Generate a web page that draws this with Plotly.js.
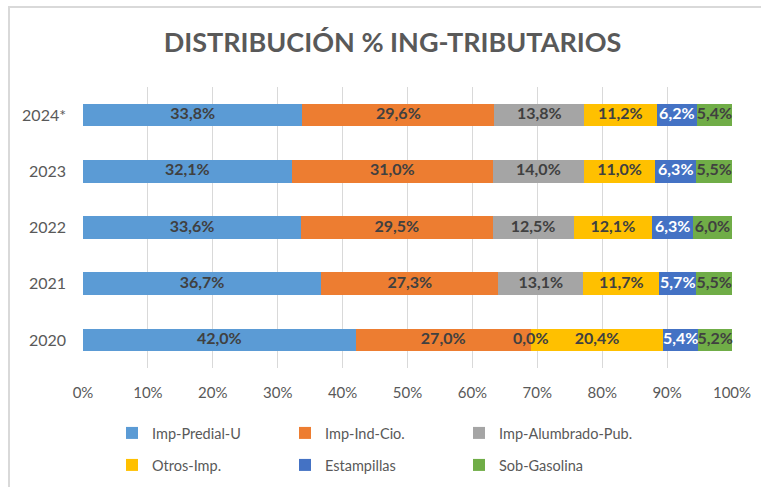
<!DOCTYPE html>
<html>
<head>
<meta charset="utf-8">
<script src="https://cdn.plot.ly/plotly-3.0.1.min.js"></script>
<style>
  html, body { margin:0; padding:0; background:#fff; overflow:hidden; }
  #frame { position:absolute; left:8px; top:6px; width:900px; height:700px; border-left:2px solid #d9d9d9; border-top:2px solid #d9d9d9; }
  #chart { position:absolute; left:0; top:0; width:761px; height:487px; }
</style>
</head>
<body>
<div id="frame"></div>
<div id="chart"></div>
<script>
const years = ['2020', '2021', '2022', '2023', '2024*'];
const seriesNames = ['Imp-Predial-U', 'Imp-Ind-Cio.', 'Imp-Alumbrado-Pub.', 'Otros-Imp.', 'Estampillas', 'Sob-Gasolina'];
const predial    = [42.0, 36.7, 33.6, 32.1, 33.8];
const indCio     = [27.0, 27.3, 29.5, 31.0, 29.6];
const alumbrado  = [0.0, 13.1, 12.5, 14.0, 13.8];
const otros      = [20.4, 11.7, 12.1, 11.0, 11.2];
const estampillas= [5.4, 5.7, 6.3, 6.3, 6.2];
const gasolina   = [5.2, 5.5, 6.0, 5.5, 5.4];
const tickVals = [0, 10, 20, 30, 40, 50, 60, 70, 80, 90, 100];
const tickText = ['0%','10%','20%','30%','40%','50%','60%','70%','80%','90%','100%'];

const colors = ['#5B9BD5', '#ED7D31', '#A5A5A5', '#FFC000', '#4472C4', '#70AD47'];
const labelColors = ['#404040', '#404040', '#404040', '#404040', '#ffffff', '#404040'];
const legendIds = ['legend', 'legend2', 'legend3', 'legend4', 'legend5', 'legend6'];
const allSeries = [predial, indCio, alumbrado, otros, estampillas, gasolina];

// normalise to 100% (Excel 100% stacked)
const totals = years.map((_, i) => allSeries.reduce((s, a) => s + a[i], 0));
const norm = allSeries.map(a => a.map((v, i) => v / totals[i] * 100));

const fmt = v => v.toFixed(1).replace('.', ',') + '%';

const traces = [];
norm.forEach((vals, k) => {
  traces.push({
    type: 'bar', orientation: 'h', name: seriesNames[k],
    y: years, x: vals, width: 0.4,
    marker: { color: colors[k] },
    legend: legendIds[k],
    hoverinfo: 'skip'
  });
});
// labels at centres of each segment
norm.forEach((vals, k) => {
  const mids = vals.map((v, i) => {
    let base = 0;
    for (let j = 0; j < k; j++) base += norm[j][i];
    return base + v / 2;
  });
  traces.push({
    type: 'scatter', mode: 'text', showlegend: false, hoverinfo: 'skip',
    y: years, x: mids, text: allSeries[k].map(fmt),
    textfont: { family: 'Lato, sans-serif', size: 16, color: labelColors[k], weight: 'bold' },
    textposition: 'middle center', cliponaxis: false
  });
});

const legendBase = {
  orientation: 'h', xref: 'container', yref: 'container',
  xanchor: 'left', yanchor: 'middle', itemwidth: 30,
  font: { size: 14.5, color: '#595959' },
  bgcolor: 'rgba(0,0,0,0)'
};
const colX = [112, 285, 459];
const rowY = [433, 465];
function legendAt(k) {
  return Object.assign({}, legendBase, {
    x: colX[k % 3] / 761,
    y: 1 - rowY[Math.floor(k / 3)] / 487
  });
}

const layout = {
  width: 761, height: 487,
  paper_bgcolor: 'rgba(0,0,0,0)', plot_bgcolor: 'rgba(0,0,0,0)',
  barmode: 'stack',
  margin: { l: 83, r: 29, t: 87, b: 119, autoexpand: false },
  font: { family: 'Lato, sans-serif', color: '#595959' },
  title: {
    text: '<b>DISTRIBUCIÓN % ING-TRIBUTARIOS</b>',
    font: { family: 'Lato, sans-serif', size: 27, color: '#595959' },
    x: 392.5 / 761, xanchor: 'center', xref: 'container',
    yref: 'container', y: 1 - 43 / 487, yanchor: 'middle'
  },
  xaxis: {
    range: [0, 100], tickvals: tickVals, ticktext: tickText,
    showgrid: true, gridcolor: '#d9d9d9', gridwidth: 1,
    zeroline: false, showline: false, ticks: '',
    ticklabelstandoff: 14,
    tickfont: { size: 15, color: '#595959' }, fixedrange: true
  },
  yaxis: {
    type: 'category', categoryorder: 'array', categoryarray: years,
    showgrid: false, zeroline: false, showline: false, ticks: '',
    ticklabelstandoff: 16,
    tickfont: { size: 16, color: '#595959' }, fixedrange: true
  },
  showlegend: true
};
legendIds.forEach((id, k) => { layout[id] = legendAt(k); });

Plotly.newPlot('chart', traces, layout, { displayModeBar: false, staticPlot: true });
</script>
</body>
</html>
